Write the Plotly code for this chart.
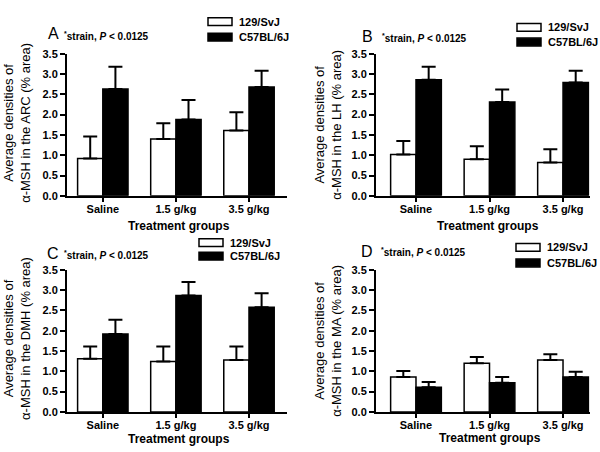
import plotly.graph_objects as go

# ---------------- data ----------------
categories = ["Saline", "1.5 g/kg", "3.5 g/kg"]
series_names = ["129/SvJ", "C57BL/6J"]

arc_129 = [0.92, 1.40, 1.61]
arc_129_err = [0.54, 0.39, 0.45]
arc_b6 = [2.63, 1.88, 2.68]
arc_b6_err = [0.55, 0.48, 0.40]

lh_129 = [1.02, 0.90, 0.82]
lh_129_err = [0.33, 0.32, 0.33]
lh_b6 = [2.86, 2.31, 2.79]
lh_b6_err = [0.32, 0.31, 0.29]

dmh_129 = [1.31, 1.24, 1.28]
dmh_129_err = [0.30, 0.37, 0.33]
dmh_b6 = [1.92, 2.87, 2.58]
dmh_b6_err = [0.35, 0.33, 0.34]

ma_129 = [0.86, 1.20, 1.28]
ma_129_err = [0.15, 0.15, 0.14]
ma_b6 = [0.61, 0.72, 0.86]
ma_b6_err = [0.13, 0.14, 0.13]

panel_letters = ["A", "B", "C", "D"]
regions = ["ARC", "LH", "DMH", "MA"]
y_ticks = [0.0, 0.5, 1.0, 1.5, 2.0, 2.5, 3.0, 3.5]

W, H = 600, 452
FONT = "Liberation Sans, Arial, sans-serif"

def px(x):
    return x / W

def py(y):
    return 1 - y / H

panels = [
    dict(vals=(arc_129, arc_129_err, arc_b6, arc_b6_err),
         xdom=(67, 287), ydom=(49, 195), xrange=(-0.49, 2.52),
         letter=(53, 28), note=(62, 31), leg=(208, 12, 28, 16, 32),
         ytitle=(17, 120), xtitle=(179, 226)),
    dict(vals=(lh_129, lh_129_err, lh_b6, lh_b6_err),
         xdom=(376, 590), ydom=(49, 195), xrange=(-0.544, 2.367),
         letter=(367, 31), note=(380, 33), leg=(517, 18, 33, 22, 37),
         ytitle=(328, 122), xtitle=(488, 226)),
    dict(vals=(dmh_129, dmh_129_err, dmh_b6, dmh_b6_err),
         xdom=(67, 287), ydom=(271, 417), xrange=(-0.49, 2.52),
         letter=(53, 254), note=(62, 256), leg=(199, 239, 253, 243, 257),
         ytitle=(17, 342), xtitle=(179, 445)),
    dict(vals=(ma_129, ma_129_err, ma_b6, ma_b6_err),
         xdom=(376, 590), ydom=(271, 417), xrange=(-0.544, 2.367),
         letter=(367, 252), note=(379, 253), leg=(516, 244, 260, 248, 264),
         ytitle=(328, 344), xtitle=(490, 444)),
]

fig = go.Figure()
shapes = []
annotations = []
layout_axes = {}

for i, p in enumerate(panels):
    n = "" if i == 0 else str(i + 1)
    xa, ya = "x" + n, "y" + n
    v129, e129, vb6, eb6 = p["vals"]
    for vals, errs, color, name in [(v129, e129, "white", series_names[0]),
                                    (vb6, eb6, "black", series_names[1])]:
        fig.add_trace(go.Bar(
            x=categories, y=vals, name=name, showlegend=False,
            marker=dict(color=color, line=dict(color="black", width=1.5)),
            error_y=dict(type="data", symmetric=False, array=errs,
                         arrayminus=[0] * len(errs), color="black",
                         thickness=2, width=7),
            xaxis=xa, yaxis=ya, offsetgroup=name,
        ))
    layout_axes["xaxis" + n] = dict(
        domain=[px(p["xdom"][0]), px(p["xdom"][1])], anchor=ya,
        type="category", range=list(p["xrange"]),
        showline=True, linewidth=2, linecolor="black",
        ticks="outside", ticklen=4, tickwidth=2, tickcolor="black",
        ticklabelstandoff=-2,
        showgrid=False, zeroline=False,
        tickfont=dict(family=FONT, size=11, color="black", weight="bold"),
    )
    layout_axes["yaxis" + n] = dict(
        domain=[py(p["ydom"][1]), py(p["ydom"][0])], anchor=xa,
        range=[0, 3.5], tickvals=y_ticks, tickformat=".1f",
        showline=True, linewidth=2, linecolor="black",
        ticks="outside", ticklen=5, tickwidth=2, tickcolor="black",
        showgrid=False, zeroline=False,
        tickfont=dict(family=FONT, size=11, color="black", weight="bold"),
    )
    # panel letter
    lx, ly = p["letter"]
    annotations.append(dict(x=px(lx), y=py(ly), xref="paper", yref="paper",
                            text=panel_letters[i], showarrow=False,
                            xanchor="center", yanchor="middle",
                            font=dict(family=FONT, size=16, color="black")))
    nx, ny = p["note"]
    annotations.append(dict(x=px(nx), y=py(ny), xref="paper", yref="paper",
                            text="<b><sup>*</sup>strain, <i>P</i> &lt; 0.0125</b>",
                            showarrow=False, xanchor="left", yanchor="middle",
                            font=dict(family=FONT, size=10, color="black")))
    # legend
    bx, wy, by, ty1, ty2 = p["leg"]
    shapes.append(dict(type="rect", xref="paper", yref="paper",
                       x0=px(bx), x1=px(bx + 24), y0=py(wy), y1=py(wy + 8),
                       line=dict(color="black", width=1.5), fillcolor="white"))
    shapes.append(dict(type="rect", xref="paper", yref="paper",
                       x0=px(bx), x1=px(bx + 24), y0=py(by), y1=py(by + 8),
                       line=dict(color="black", width=1.5), fillcolor="black"))
    for t, yy in [(series_names[0], ty1), (series_names[1], ty2)]:
        annotations.append(dict(x=px(bx + 29), y=py(yy), xref="paper", yref="paper",
                                text="<b>" + t + "</b>", showarrow=False,
                                xanchor="left", yanchor="middle",
                                font=dict(family=FONT, size=11, color="black")))
    # axis titles
    tx, tyy = p["ytitle"]
    annotations.append(dict(x=px(tx), y=py(tyy), xref="paper", yref="paper",
                            text="Average densities of<br>α-MSH in the " + regions[i] + " (% area)",
                            showarrow=False, textangle=-90,
                            xanchor="center", yanchor="middle",
                            font=dict(family=FONT, size=13, color="black")))
    gx, gy = p["xtitle"]
    annotations.append(dict(x=px(gx), y=py(gy), xref="paper", yref="paper",
                            text="<b>Treatment groups</b>", showarrow=False,
                            xanchor="center", yanchor="middle",
                            font=dict(family=FONT, size=12, color="black")))

fig.update_layout(
    width=W, height=H, margin=dict(l=0, r=0, t=0, b=0),
    paper_bgcolor="white", plot_bgcolor="white",
    barmode="group", bargap=0.31, bargroupgap=0,
    shapes=shapes, annotations=annotations,
    showlegend=False,
    **layout_axes,
)

fig.write_html(
    "out.html",
    config={"displayModeBar": False},
    post_script="document.body.style.margin='0';document.body.style.padding='0';"
                "document.body.style.overflow='hidden';",
)
